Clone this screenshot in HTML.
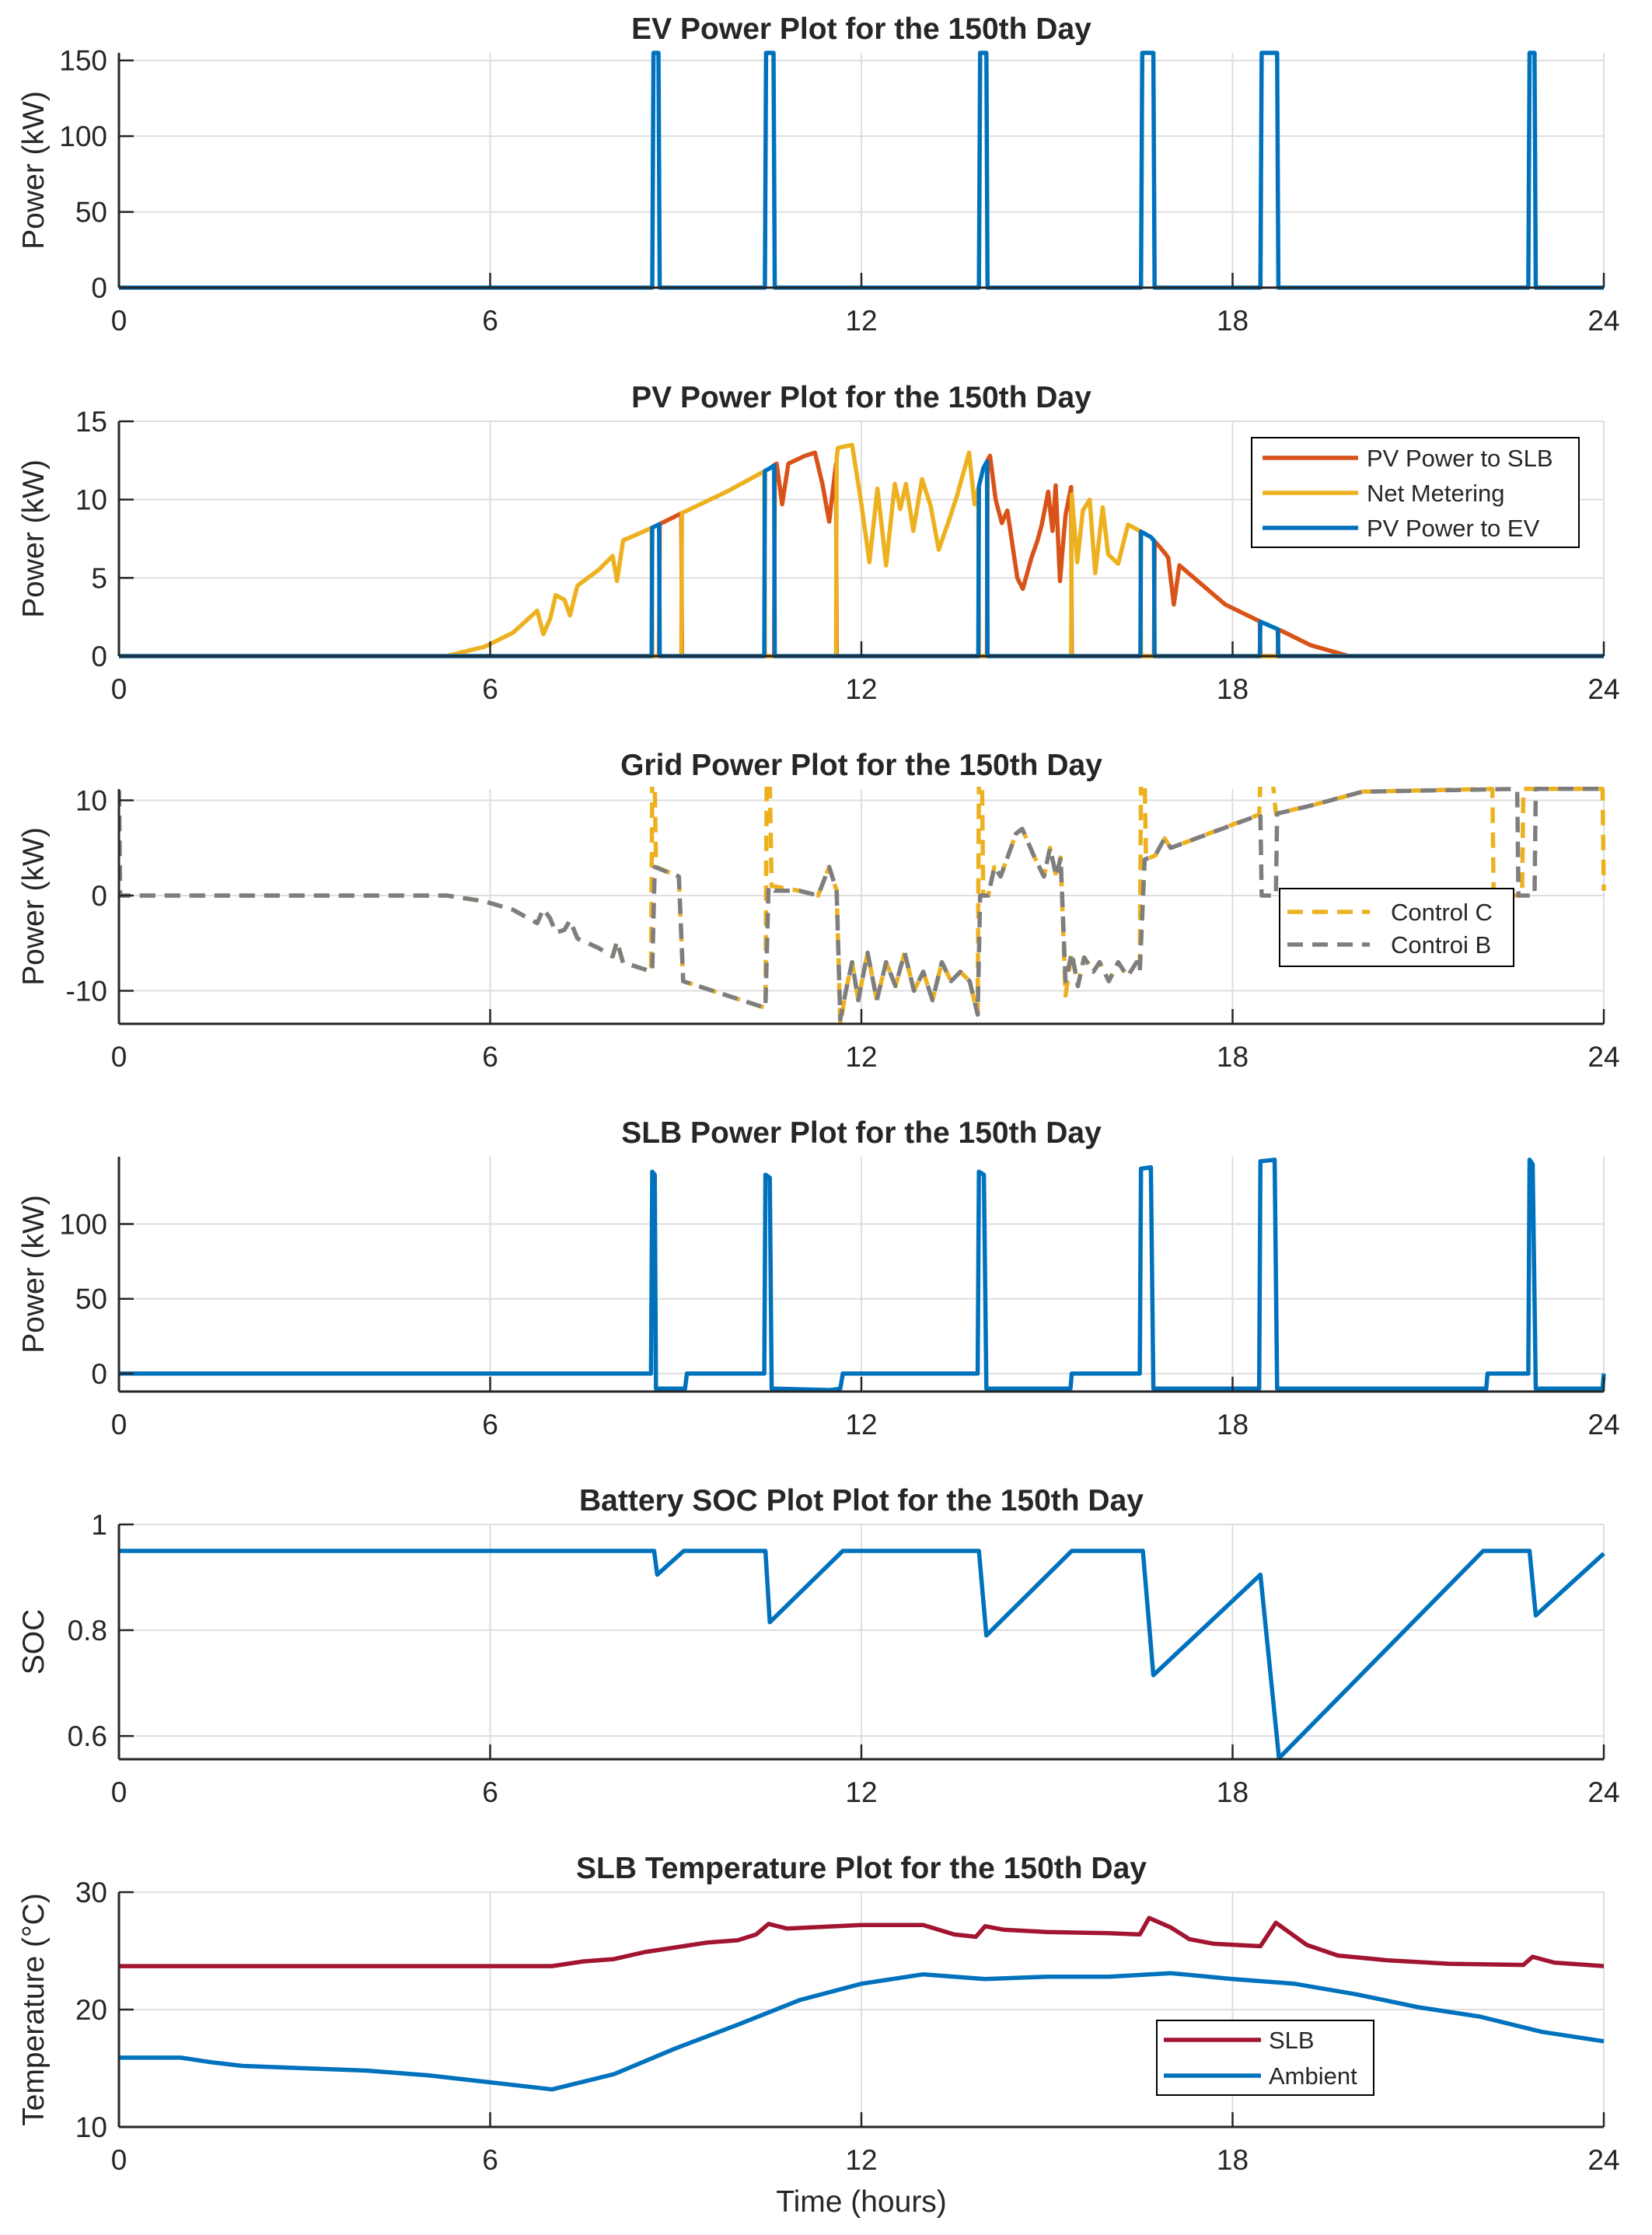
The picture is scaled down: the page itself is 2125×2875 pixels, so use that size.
<!DOCTYPE html>
<html><head><meta charset="utf-8"><style>
html,body{margin:0;padding:0;background:#fff}
svg{display:block}
text{font-family:"Liberation Sans",Arial,sans-serif;fill:#262626}
</style></head><body>
<svg id="fig" width="2125" height="2875" viewBox="0 0 2125 2875" xmlns="http://www.w3.org/2000/svg">
<rect width="2125" height="2875" fill="#fff"/>
</svg>
<script>
// ---------- Data ----------
const xTicks = [0, 6, 12, 18, 24];
// EV power
const evHours = [0, 8.62, 8.64, 8.72, 8.74, 10.44, 10.46, 10.58, 10.6, 13.9, 13.92, 14.02, 14.04, 16.52, 16.54, 16.72, 16.74, 18.45, 18.47, 18.72, 18.74, 22.78, 22.8, 22.88, 22.9, 24];
const evPower = [0, 0, 155, 155, 0, 0, 155, 155, 0, 0, 155, 155, 0, 0, 155, 155, 0, 0, 155, 155, 0, 0, 155, 155, 0, 0];
// PV total generation
const pvHours = [0, 5.29, 5.91, 6.37, 6.76, 6.86, 6.97, 7.06, 7.2, 7.29, 7.41, 7.75, 7.98, 8.05, 8.15, 8.33, 8.67, 9.13, 9.82, 10.52, 10.63, 10.72, 10.82, 11.09, 11.25, 11.37, 11.48, 11.62, 11.85, 11.99, 12.13, 12.26, 12.4, 12.54, 12.63, 12.72, 12.84, 12.98, 13.12, 13.25, 13.41, 13.55, 13.74, 13.83, 13.97, 14.08, 14.17, 14.27, 14.36, 14.52, 14.61, 14.75, 14.84, 14.91, 15.02, 15.09, 15.14, 15.21, 15.3, 15.39, 15.49, 15.58, 15.69, 15.78, 15.9, 15.99, 16.15, 16.31, 16.5, 16.68, 16.84, 16.96, 17.05, 17.14, 17.88, 18.45, 18.8, 19.26, 19.88, 24];
const pvTotal = [0, 0, 0.6, 1.5, 2.9, 1.4, 2.4, 3.9, 3.6, 2.6, 4.5, 5.5, 6.4, 4.8, 7.4, 7.7, 8.3, 9.2, 10.5, 12.0, 12.3, 9.7, 12.3, 12.8, 13.0, 11.0, 8.6, 13.3, 13.5, 10.0, 6.0, 10.7, 5.8, 11.0, 9.4, 11.0, 8.0, 11.3, 9.6, 6.8, 8.6, 10.3, 13.0, 9.7, 12.0, 12.8, 10.0, 8.5, 9.3, 5.0, 4.3, 6.3, 7.3, 8.3, 10.5, 8.0, 10.9, 4.8, 9.0, 10.8, 6.0, 9.3, 10.0, 5.3, 9.5, 6.5, 5.9, 8.4, 8.0, 7.6, 6.9, 6.3, 3.3, 5.8, 3.3, 2.2, 1.6, 0.7, 0, 0];
// PV routing windows: S = to SLB, Y = net metering, E = to EV
const segStart = [0, 8.62, 8.74, 9.1, 10.44, 10.6, 11.6, 13.9, 14.04, 15.4, 16.52, 16.74, 18.45, 18.74];
const segEnd   = [8.62, 8.74, 9.1, 10.44, 10.6, 11.6, 13.9, 14.04, 15.4, 16.52, 16.74, 18.45, 18.74, 24];
const segType  = ['Y', 'E', 'S', 'Y', 'E', 'S', 'Y', 'E', 'S', 'Y', 'E', 'S', 'E', 'S'];
// Grid power
const gridBHours = [0, 0.02, 5.3, 5.9, 6.37, 6.76, 6.86, 6.97, 7.06, 7.2, 7.29, 7.41, 7.75, 7.98, 8.05, 8.15, 8.33, 8.62, 8.66, 9.05, 9.12, 10.45, 10.5, 10.6, 11.0, 11.3, 11.48, 11.6, 11.66, 11.75, 11.85, 11.95, 12.1, 12.25, 12.4, 12.55, 12.7, 12.85, 13.0, 13.15, 13.3, 13.45, 13.6, 13.75, 13.88, 13.92, 14.05, 14.15, 14.25, 14.5, 14.6, 14.8, 14.95, 15.05, 15.15, 15.22, 15.3, 15.4, 15.5, 15.6, 15.75, 15.85, 16.0, 16.15, 16.3, 16.45, 16.5, 16.58, 16.75, 16.9, 17.0, 18.45, 18.47, 18.7, 18.72, 19.3, 20.1, 22.6, 22.62, 22.88, 22.9, 24];
const gridB = [11, 0, 0, -0.6, -1.5, -2.9, -1.4, -2.4, -3.9, -3.6, -2.6, -4.5, -5.5, -6.4, -4.8, -7.1, -7.4, -8.0, 3, 2, -9, -11.8, 1, 0.5, 0.5, 0, 3, 0.5, -13, -10, -7, -11, -6, -11, -7, -9.5, -6, -10, -8, -11, -7, -9, -8, -9, -12.5, 0, 0, 3, 2, 6.5, 7, 4, 2, 5, 2, 4, -9, -6, -9.5, -6.5, -8, -7, -9, -7, -8.5, -7, -8, 3.8, 4.2, 6, 5, 8.5, 0, 0, 8.6, 9.5, 10.9, 11.2, 0, 0, 11.2, 11.2];
const gridCHours = [0, 0.02, 5.3, 5.9, 6.37, 6.76, 6.86, 6.97, 7.06, 7.2, 7.29, 7.41, 7.75, 7.98, 8.05, 8.15, 8.33, 8.6, 8.62, 8.66, 8.68, 9.05, 9.12, 10.45, 10.47, 10.52, 10.55, 11.0, 11.3, 11.48, 11.6, 11.66, 11.75, 11.85, 11.95, 12.1, 12.25, 12.4, 12.55, 12.7, 12.85, 13.0, 13.15, 13.3, 13.45, 13.6, 13.75, 13.88, 13.9, 13.95, 13.97, 14.05, 14.15, 14.25, 14.5, 14.6, 14.8, 14.95, 15.05, 15.15, 15.22, 15.3, 15.4, 15.5, 15.6, 15.75, 15.85, 16.0, 16.15, 16.3, 16.45, 16.5, 16.52, 16.58, 16.6, 16.75, 16.9, 17.0, 18.43, 18.45, 18.65, 18.7, 19.3, 20.1, 22.2, 22.22, 22.68, 22.7, 23.98, 24];
const gridC = [11, 0, 0, -0.6, -1.5, -2.9, -1.4, -2.4, -3.9, -3.6, -2.6, -4.5, -5.5, -6.4, -4.8, -7.1, -7.4, -8.0, 12, 12, 3, 2, -9, -11.8, 12, 12, 1, 0.5, 0, 3, 0.5, -13.5, -10, -7, -11, -6, -11, -7, -9.5, -6, -10, -8, -11, -7, -9, -8, -9, -12.5, 12, 12, 0, 0, 3, 2, 6.5, 7, 4, 2, 5, 2, 4, -10.5, -6, -9.5, -6.5, -8, -7, -9, -7, -8.5, -7, -8, 12, 12, 3.8, 4.2, 6, 5, 8.5, 12, 12, 8.6, 9.5, 10.9, 11.2, 0, 0, 11.2, 11.2, 0.5];
// SLB power
const slbHours = [0, 8.6, 8.62, 8.66, 8.68, 9.15, 9.18, 10.43, 10.45, 10.52, 10.55, 11.0, 11.5, 11.66, 11.7, 13.88, 13.9, 13.98, 14.02, 15.38, 15.4, 16.5, 16.52, 16.68, 16.72, 18.43, 18.45, 18.68, 18.72, 22.1, 22.12, 22.78, 22.8, 22.85, 22.9, 23.98, 24];
const slbPower = [0, 0, 135, 133, -10, -10, 0, 0, 133, 131, -10, -10.5, -11, -10, 0, 0, 135, 133, -10, -10, 0, 0, 137, 138, -10, -10, 142, 143, -10, -10, 0, 0, 143, 140, -10, -10, 0];
// SOC
const socHours = [0, 8.65, 8.7, 9.13, 10.45, 10.52, 11.7, 13.9, 14.02, 15.4, 16.55, 16.72, 18.45, 18.75, 22.05, 22.8, 22.9, 24];
const socValue = [0.95, 0.95, 0.905, 0.95, 0.95, 0.815, 0.95, 0.95, 0.79, 0.95, 0.95, 0.715, 0.905, 0.558, 0.95, 0.95, 0.828, 0.945];
// Temperature
const tSlbHours = [0, 7, 7.5, 8, 8.5, 9, 9.5, 10, 10.3, 10.5, 10.8, 11.2, 12, 13, 13.5, 13.85, 14, 14.3, 15, 16, 16.5, 16.65, 17, 17.3, 17.7, 18.45, 18.7, 19.2, 19.7, 20.5, 21.5, 22.7, 22.85, 23.2, 24];
const tSlb = [23.7, 23.7, 24.1, 24.3, 24.9, 25.3, 25.7, 25.9, 26.4, 27.3, 26.9, 27.0, 27.2, 27.2, 26.4, 26.2, 27.1, 26.8, 26.6, 26.5, 26.4, 27.8, 27.0, 26.0, 25.6, 25.4, 27.4, 25.5, 24.6, 24.2, 23.9, 23.8, 24.5, 24.0, 23.7];
const tAmbHours = [0, 1, 1.5, 2, 3, 4, 5, 6, 7, 8, 9, 10, 11, 12, 13, 14, 15, 16, 17, 18, 19, 20, 21, 22, 23, 24];
const tAmb = [15.9, 15.9, 15.5, 15.2, 15.0, 14.8, 14.4, 13.8, 13.2, 14.5, 16.7, 18.7, 20.8, 22.2, 23.0, 22.6, 22.8, 22.8, 23.1, 22.6, 22.2, 21.3, 20.2, 19.4, 18.1, 17.3];

// ---------- Rendering ----------
const NS = 'http://www.w3.org/2000/svg';
const svg = document.getElementById('fig');
const XL = 153, XR = 2063, H = 302;
function X(h){ return XL + h / 24 * (XR - XL); }
function mk(tag, attrs, parent){ const e = document.createElementNS(NS, tag); for (const k in attrs) e.setAttribute(k, attrs[k]); (parent || svg).appendChild(e); return e; }

function axes(id, top, ymin, ymax, yticks, ylabels, title, ylabel){
  const g = mk('g', {});
  
  
  const Y = v => top + H - (v - ymin) / (ymax - ymin) * H;
  yticks.forEach(v => { const l = mk('line', {x1: XL, x2: XR, y1: Y(v), y2: Y(v), stroke: '#dedede', 'stroke-width': 2}, g);
      });
  xTicks.forEach(h => { if (h > 0) { const l = mk('line', {x1: X(h), x2: X(h), y1: top, y2: top + H, stroke: '#dedede', 'stroke-width': 2}, g);
      } });
  const cp = mk('clipPath', {id: 'clip-' + id}, g);
  mk('rect', {x: XL, y: top - 3, width: XR - XL + 3, height: H + 6}, cp);
  const plot = mk('g', {'clip-path': 'url(#clip-' + id + ')'}, g);
  
  
  const t = mk('text', {x: (XL + XR) / 2, y: top - 18, 'text-anchor': 'middle', 'font-size': 39, 'font-weight': 'bold', fill: '#000'}, g);
  t.textContent = title;
   
  const yl = mk('text', {x: 0, y: 0, 'text-anchor': 'middle', 'font-size': 39, transform: 'translate(' + 56 + ',' + (top + H / 2) + ') rotate(-90)'}, g);
  yl.textContent = ylabel;
   
  yticks.forEach((v, i) => { const tx = mk('text', {x: 138, y: Y(v) + 13, 'text-anchor': 'end', 'font-size': 37}, g); tx.textContent = ylabels[i];
     
    mk('line', {x1: XL, x2: XL + 19, y1: Y(v), y2: Y(v), stroke: '#262626', 'stroke-width': 2.5}, g); });
  xTicks.forEach(h => { const tx = mk('text', {x: X(h), y: top + H + 55, 'text-anchor': 'middle', 'font-size': 37}, g); tx.textContent = String(h);
     
    mk('line', {x1: X(h), x2: X(h), y1: top + H, y2: top + H - 19, stroke: '#262626', 'stroke-width': 2.5}, g); });
  return {g, plot, Y, top};
}
function finishAxes(a){
  mk('line', {x1: XL, x2: XL, y1: a.top, y2: a.top + H, stroke: '#262626', 'stroke-width': 3}, a.g);
  mk('line', {x1: XL, x2: XR, y1: a.top + H, y2: a.top + H, stroke: '#262626', 'stroke-width': 3}, a.g);
}
function line(a, hs, vs, color, name, dash){
  const pts = hs.map((h, i) => X(h).toFixed(1) + ',' + a.Y(vs[i]).toFixed(1)).join(' ');
  const p = mk('polyline', {points: pts, fill: 'none', stroke: color, 'stroke-width': 5.5, 'stroke-linejoin': 'round'}, a.plot);
  if (dash) p.setAttribute('stroke-dasharray', dash);
  
  
  return p;
}
function legend(a, x, y, w, h, items, rowY, lx1, lx2, tx){
  const lg = mk('g', {}, a.g);
  
  
  mk('rect', {x, y, width: w, height: h, fill: '#fff', stroke: '#000', 'stroke-width': 2}, lg);
  items.forEach((it, i) => {
    const e = mk('g', {}, lg);
    
    
    const l = mk('line', {x1: lx1, x2: lx2, y1: rowY[i], y2: rowY[i], stroke: it.c, 'stroke-width': 5.5}, e);
    if (it.d) l.setAttribute('stroke-dasharray', it.d);
    const t = mk('text', {x: tx, y: rowY[i] + 11, 'font-size': 31, fill: '#000'}, e);
    t.textContent = it.t;
  });
}
const tops = [68, 542, 1015, 1488, 1961, 2434];
const BLUE = '#0072BD', ORANGE = '#D95319', YELLOW = '#EDB120', MAROON = '#A2142F', GRAY = '#7E7E7E';

let a = axes('ev-power', tops[0], 0, 155, [0, 50, 100, 150], ['0', '50', '100', '150'], 'EV Power Plot for the 150th Day', 'Power (kW)');
line(a, evHours, evPower, BLUE, 'ev-power-line');
finishAxes(a);

a = axes('pv-power', tops[1], 0, 15, [0, 5, 10, 15], ['0', '5', '10', '15'], 'PV Power Plot for the 150th Day', 'Power (kW)');
function interp(hs, vs, h){ for (let i = 1; i < hs.length; i++) if (h <= hs[i]) { const f = (h - hs[i-1]) / (hs[i] - hs[i-1] || 1); return vs[i-1] + f * (vs[i] - vs[i-1]); } return vs[vs.length - 1]; }
function typeAt(h){ for (let i = 0; i < segStart.length; i++) if (h >= segStart[i] && h < segEnd[i]) return segType[i]; return 'S'; }
function pvSeries(tp){
  const hs = [], vs = [];
  for (let k = 0; k <= 2400; k++) { const h = k / 100; hs.push(h); vs.push(typeAt(h) === tp ? interp(pvHours, pvTotal, h) : 0); }
  return [hs, vs];
}
let s = pvSeries('S'); line(a, s[0], s[1], ORANGE, 'pv-to-slb-line');
s = pvSeries('Y'); line(a, s[0], s[1], YELLOW, 'net-metering-line');
s = pvSeries('E'); line(a, s[0], s[1], BLUE, 'pv-to-ev-line');
finishAxes(a);
legend(a, 1610, 563, 421, 141, [{t: 'PV Power to SLB', c: ORANGE}, {t: 'Net Metering', c: YELLOW}, {t: 'PV Power to EV', c: BLUE}], [589, 634, 679], 1624, 1747, 1758);

a = axes('grid-power', tops[2], -13.47, 11.18, [-10, 0, 10], ['-10', '0', '10'], 'Grid Power Plot for the 150th Day', 'Power (kW)');
line(a, gridCHours, gridC, YELLOW, 'control-c-line', '20 12');
line(a, gridBHours, gridB, GRAY, 'control-b-line', '20 12');
finishAxes(a);
legend(a, 1646, 1143, 301, 100, [{t: 'Control C', c: YELLOW, d: '20 12'}, {t: 'Controi B', c: GRAY, d: '20 12'}], [1173, 1215], 1656, 1762, 1789);

a = axes('slb-power', tops[3], -12, 145, [0, 50, 100], ['0', '50', '100'], 'SLB Power Plot for the 150th Day', 'Power (kW)');
line(a, slbHours, slbPower, BLUE, 'slb-power-line');
finishAxes(a);

a = axes('battery-soc', tops[4], 0.556, 1.0, [0.6, 0.8, 1.0], ['0.6', '0.8', '1'], 'Battery SOC Plot Plot for the 150th Day', 'SOC');
line(a, socHours, socValue, BLUE, 'soc-line');
finishAxes(a);

a = axes('slb-temperature', tops[5], 10, 30, [10, 20, 30], ['10', '20', '30'], 'SLB Temperature Plot for the 150th Day', 'Temperature (°C)');
line(a, tSlbHours, tSlb, MAROON, 'slb-temperature-line');
line(a, tAmbHours, tAmb, BLUE, 'ambient-temperature-line');
finishAxes(a);
legend(a, 1488, 2599, 279, 96, [{t: 'SLB', c: MAROON}, {t: 'Ambient', c: BLUE}], [2624, 2670], 1497, 1622, 1632);

const xl = mk('text', {x: 1108, y: 2845, 'text-anchor': 'middle', 'font-size': 39});
xl.textContent = 'Time (hours)';


</script>
</body></html>
